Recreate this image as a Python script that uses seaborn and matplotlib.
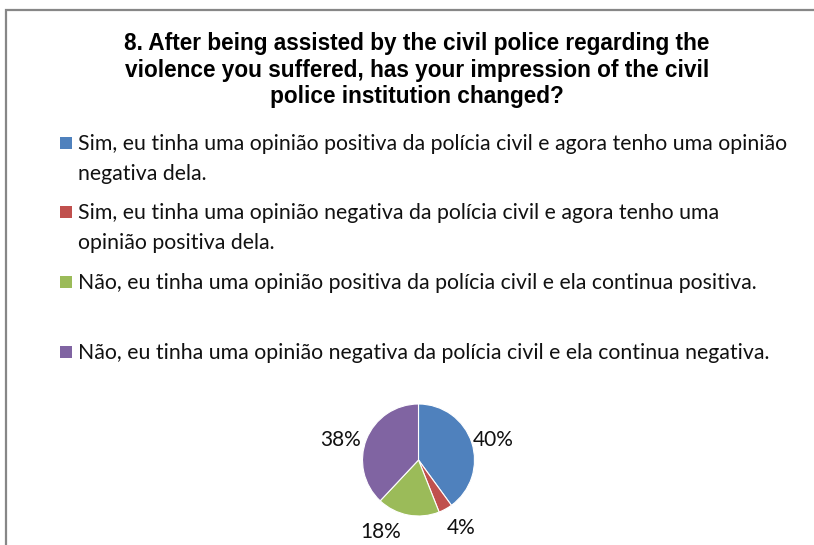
import matplotlib
matplotlib.use("Agg")
import matplotlib.pyplot as plt
import seaborn as sns
import numpy as np
from matplotlib.patches import Rectangle
from matplotlib import font_manager

sns.set_theme(style="white")

# ---- data ----
categories = [
    "Sim, eu tinha uma opinião positiva da polícia civil e agora tenho uma opinião\nnegativa dela.",
    "Sim, eu tinha uma opinião negativa da polícia civil e agora tenho uma\nopinião positiva dela.",
    "Não, eu tinha uma opinião positiva da polícia civil e ela continua positiva.",
    "Não, eu tinha uma opinião negativa da polícia civil e ela continua negativa.",
]
values = [40, 4, 18, 38]
colors = ["#4F81BD", "#C0504D", "#9BBB59", "#8064A2"]
title = ("8. After being assisted by the civil police regarding the\n"
         "violence you suffered, has your impression of the civil\n"
         "police institution changed?")

# label placement tweaks (style): angular shift in degrees, radial distance
label_shift = [-3, 3, -17, 7]
label_dist = [1.39, 1.43, 1.46, 1.43]

W, H = 814, 545
fig = plt.figure(figsize=(W / 100, H / 100), dpi=100)
fig.patch.set_facecolor("white")

def fx(px):
    return px / W

def fy(py):
    return 1 - py / H

avail = {f.name for f in font_manager.fontManager.ttflist}
body_font = "Lato" if "Lato" in avail else "DejaVu Sans"

# border
fig.add_artist(Rectangle((fx(6), fy(600)), fx(900), fy(10) - fy(600),
                         transform=fig.transFigure, fill=False,
                         edgecolor="#878787", linewidth=1.6))

# title
fig.text(fx(417), fy(70), title, ha="center", va="center",
         fontsize=16.3, fontweight="bold", family="Liberation Sans",
         color="black", linespacing=1.17)

# legend
entry_y = [143, 212, 282, 352]
for lab, col, y in zip(categories, colors, entry_y):
    fig.add_artist(Rectangle((fx(60), fy(y + 6)), fx(12), fy(y - 6) - fy(y + 6),
                             transform=fig.transFigure, facecolor=col,
                             edgecolor="none"))
    fig.text(fx(78), fy(y - 9), lab, ha="left", va="top",
             fontsize=15.3, family=body_font, color="#111111",
             linespacing=1.6)

# pie
cx, cy, r = 418.5, 460, 56
k = 2.2
ax = fig.add_axes([fx(cx - r * k), fy(cy + r * k), (2 * r * k) / W, (2 * r * k) / H])
wedges, texts, autotexts = ax.pie(
    values, colors=colors, startangle=90, counterclock=False,
    autopct=lambda p: f"{p:.0f}%", pctdistance=1.4,
    wedgeprops=dict(edgecolor="white", linewidth=0.8),
    textprops=dict(fontsize=15, family=body_font, color="#111111"))
for w, t, s, d in zip(wedges, autotexts, label_shift, label_dist):
    ang = np.deg2rad((w.theta1 + w.theta2) / 2 + s)
    t.set_position((d * np.cos(ang), d * np.sin(ang)))
    t.set_ha("center")
    t.set_va("center")
ax.set_xlim(-k, k)
ax.set_ylim(-k, k)
ax.set_aspect("equal")
ax.axis("off")

fig.savefig("out.png", dpi=100, facecolor="white")
